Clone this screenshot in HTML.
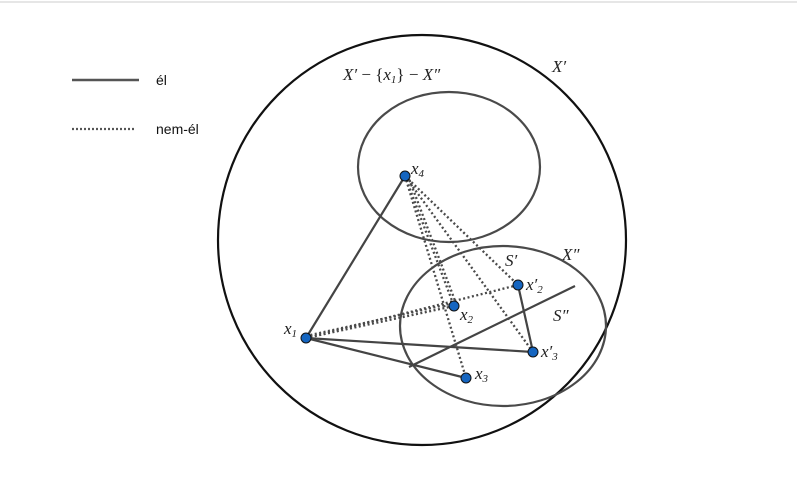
<!DOCTYPE html>
<html><head><meta charset="utf-8"><style>
body{margin:0;background:#fff;width:797px;height:497px;overflow:hidden}
svg{display:block}
.m{font-family:"Liberation Serif",serif;font-style:italic;font-size:17px;fill:#222}
.s{font-size:11px}
</style></head><body>
<svg width="797" height="497" viewBox="0 0 797 497">
<line x1="0" y1="2" x2="797" y2="2" stroke="#ddd" stroke-width="1.5"/>
<line x1="72" y1="80" x2="139" y2="80" stroke="#555" stroke-width="2.4"/>
<text x="156" y="85" font-family="Liberation Sans,sans-serif" font-size="14" fill="#111">él</text>
<line x1="72" y1="129" x2="136" y2="129" stroke="#555" stroke-width="2.2" stroke-dasharray="2,2"/>
<text x="156" y="134" font-family="Liberation Sans,sans-serif" font-size="14" fill="#111">nem-él</text>
<ellipse cx="422" cy="240" rx="204" ry="205" fill="none" stroke="#111" stroke-width="2.2"/>
<ellipse cx="449" cy="167" rx="91" ry="75" fill="none" stroke="#4a4a4a" stroke-width="2.2"/>
<ellipse cx="503" cy="326" rx="103" ry="80" fill="none" stroke="#4a4a4a" stroke-width="2.2"/>
<line x1="409" y1="367" x2="575" y2="286" stroke="#444" stroke-width="2.2"/>
<g stroke="#444" stroke-width="2.2">
<line x1="306" y1="338" x2="405" y2="176"/>
<line x1="306" y1="338" x2="533" y2="352"/>
<line x1="306" y1="338" x2="466" y2="378"/>
<line x1="518" y1="285" x2="533" y2="352"/>
</g>
<g stroke="#4a4a4a" stroke-width="2.3" stroke-dasharray="2,2.5" fill="none">
<line x1="306" y1="338" x2="454" y2="306"/>
<line x1="306" y1="336" x2="454" y2="303"/>
<line x1="306" y1="338" x2="518" y2="285"/>
<line x1="405" y1="176" x2="454" y2="306"/>
<line x1="408" y1="176" x2="457" y2="306"/>
<line x1="405" y1="176" x2="466" y2="378"/>
<line x1="405" y1="176" x2="533" y2="352"/>
<line x1="405" y1="176" x2="518" y2="285"/>
</g>
<g fill="#1565c0" stroke="#111" stroke-width="1">
<circle cx="405" cy="176" r="5"/><circle cx="306" cy="338" r="5"/>
<circle cx="454" cy="306" r="5"/><circle cx="518" cy="285" r="5"/>
<circle cx="533" cy="352" r="5"/><circle cx="466" cy="378" r="5"/>
</g>
<text class="m" x="411" y="174">x<tspan class="s" dy="3">4</tspan></text>
<text class="m" x="284" y="334">x<tspan class="s" dy="3">1</tspan></text>
<text class="m" x="460" y="320">x<tspan class="s" dy="3">2</tspan></text>
<text class="m" x="526" y="290">x′<tspan class="s" dy="3">2</tspan></text>
<text class="m" x="541" y="357">x′<tspan class="s" dy="3">3</tspan></text>
<text class="m" x="475" y="379">x<tspan class="s" dy="3">3</tspan></text>
<text class="m" x="505" y="266">S′</text>
<text class="m" x="553" y="321">S″</text>
<text class="m" x="562" y="260">X″</text>
<text class="m" x="552" y="72">X′</text>
<text class="m" x="343" y="80">X′ <tspan font-style="normal">−</tspan> <tspan font-style="normal">{</tspan>x<tspan class="s" dy="3">1</tspan><tspan font-style="normal" dy="-3">}</tspan> <tspan font-style="normal">−</tspan> X″</text>
</svg>
</body></html>
